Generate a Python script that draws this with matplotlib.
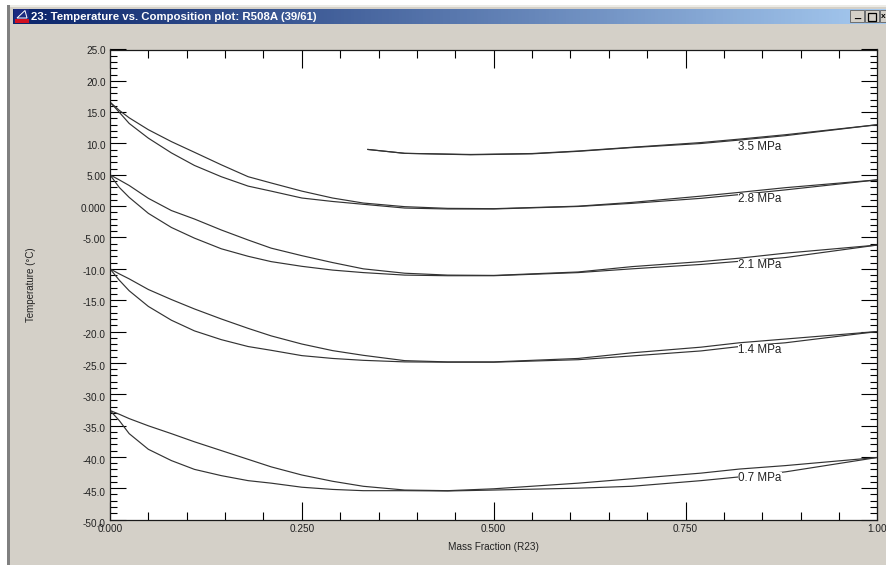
import matplotlib
matplotlib.use('Agg')
import matplotlib.pyplot as plt
from matplotlib.colors import LinearSegmentedColormap
from matplotlib.patches import Polygon, Rectangle
from matplotlib.ticker import MultipleLocator
from matplotlib.transforms import ScaledTranslation
import numpy as np

plt.rcParams['font.family'] = ['Liberation Sans', 'DejaVu Sans']

W, H = 887, 565

x_ticks = [0.0, 0.25, 0.5, 0.75, 1.0]
x_labels = ['0.000', '0.250', '0.500', '0.750', '1.00']
y_ticks = [25, 20, 15, 10, 5, 0, -5, -10, -15, -20, -25, -30, -35, -40, -45, -50]
y_labels = ['25.0', '20.0', '15.0', '10.0', '5.00', '0.000', '-5.00', '-10.0', '-15.0',
            '-20.0', '-25.0', '-30.0', '-35.0', '-40.0', '-45.0', '-50.0']

comp = [0.0, 0.012, 0.025, 0.05, 0.08, 0.11, 0.145, 0.18, 0.21, 0.25, 0.29, 0.33, 0.384, 0.44, 0.50,
        0.61, 0.68, 0.77, 0.82, 0.88, 1.0]

# upper and lower branch of each isobar
upper_07 = [-32.6, -33.2, -33.9, -35.05, -36.3, -37.6, -39.0, -40.4, -41.6, -42.9, -43.9, -44.7, -45.3, -45.4, -45.1,
            -44.2, -43.5, -42.6, -41.95, -41.4, -40.1]
lower_07 = [-32.6, -34.2, -36.3, -38.8, -40.6, -42.0, -43.0, -43.8, -44.2, -44.85, -45.2, -45.4, -45.4, -45.45, -45.3,
            -45.0, -44.7, -43.8, -43.2, -42.4, -40.1]
upper_14 = [-10.0, -10.8, -11.6, -13.3, -14.9, -16.4, -18.0, -19.5, -20.7, -22.0, -23.05, -23.8, -24.65, -24.85, -24.85,
            -24.3, -23.4, -22.5, -21.8, -21.2, -20.0]
lower_14 = [-10.0, -11.8, -13.5, -16.0, -18.2, -19.9, -21.3, -22.4, -23.0, -23.85, -24.3, -24.6, -24.85, -24.9, -24.9,
            -24.5, -23.9, -23.1, -22.4, -21.8, -20.0]
upper_21 = [5.0, 4.2, 3.3, 1.25, -0.7, -2.05, -3.8, -5.4, -6.7, -7.9, -9.0, -10.0, -10.7, -11.0, -11.05,
            -10.5, -9.65, -8.85, -8.3, -7.5, -6.2]
lower_21 = [5.0, 3.0, 1.4, -1.15, -3.4, -5.1, -6.8, -8.0, -8.85, -9.6, -10.2, -10.6, -11.0, -11.1, -11.1,
            -10.6, -10.0, -9.3, -8.8, -8.2, -6.2]
upper_28 = [16.6, 15.3, 14.1, 12.2, 10.3, 8.6, 6.6, 4.7, 3.7, 2.4, 1.3, 0.5, -0.08, -0.35, -0.4,
            0.0, 0.6, 1.6, 2.2, 2.95, 4.2]
lower_28 = [16.6, 15.0, 13.2, 10.85, 8.5, 6.5, 4.7, 3.2, 2.4, 1.3, 0.75, 0.3, -0.3, -0.45, -0.45,
            -0.05, 0.45, 1.25, 1.85, 2.6, 4.2]

comp_35 = [0.336, 0.384, 0.47, 0.55, 0.61, 0.68, 0.77, 0.82, 0.88, 1.0]
upper_35 = [9.05, 8.43, 8.25, 8.4, 8.8, 9.4, 10.15, 10.7, 11.4, 13.0]
lower_35 = [9.05, 8.43, 8.2, 8.35, 8.75, 9.35, 10.0, 10.55, 11.25, 13.0]

label_names = ['3.5 MPa', '2.8 MPa', '2.1 MPa', '1.4 MPa', '0.7 MPa']
label_x = [0.847, 0.847, 0.847, 0.847, 0.847]
label_y = [9.4, 1.1, -9.4, -23.0, -43.4]

BG = '#d4d0c8'
LINE = '#333333'

fig = plt.figure(figsize=(W / 100, H / 100), dpi=100, facecolor='white')


def px_axes(x0, y0, x1, y1):
    return fig.add_axes([x0 / W, 1 - y1 / H, (x1 - x0) / W, (y1 - y0) / H])


def px_rect(x0, y0, x1, y1, zorder=5, **kw):
    fig.add_artist(Rectangle((x0 / W, 1 - y1 / H), (x1 - x0) / W, (y1 - y0) / H,
                             transform=fig.transFigure, zorder=zorder, **kw))


# window frame
px_rect(7, 5, 887, 565, zorder=-2, facecolor=BG, edgecolor='none')
px_rect(7, 5, 887, 7, zorder=-1, facecolor='#ecebe6', edgecolor='none')
px_rect(7, 5, 10, 565, zorder=-1, facecolor='#808080', edgecolor='none')

# title bar
bar = px_axes(13, 8.5, 887, 24)
cmap = LinearSegmentedColormap.from_list('bar', ['#0a246a', '#a6caf0'])
bar.imshow(np.linspace(0, 1, 256).reshape(1, -1), aspect='auto', cmap=cmap)
bar.axis('off')
fig.text(31.5 / W, 1 - 16.5 / H, '23: Temperature vs. Composition plot: R508A (39/61)',
         color='white', fontsize=8.2, fontweight='bold', va='center', ha='left', zorder=6)
px_rect(14, 9, 29, 23, facecolor='#1a2a80', edgecolor='none')
px_rect(15, 19, 29, 23, zorder=6, facecolor='#d01020', edgecolor='none')
fig.add_artist(Polygon([(17 / W, 1 - 18 / H), (25 / W, 1 - 10.5 / H), (27 / W, 1 - 18 / H)],
                       transform=fig.transFigure, zorder=6, facecolor='none', edgecolor='white',
                       linewidth=0.7))
for bx in [850, 865, 880]:
    px_rect(bx, 10, bx + 14, 22, facecolor=BG, edgecolor='#606060', linewidth=0.6)
fig.text(857 / W, 1 - 15.5 / H, '_', fontsize=8, fontweight='bold', ha='center', va='center', zorder=6)
px_rect(868, 12.5, 876, 20.5, zorder=6, facecolor='none', edgecolor='black', linewidth=0.9)
fig.text(881 / W, 1 - 16 / H, 'x', fontsize=6, fontweight='bold', ha='left', va='center', zorder=6)

# plot
ax = px_axes(110, 49.5, 877.5, 519.5)
ax.set_facecolor('white')
pairs = [(comp, upper_07, lower_07), (comp, upper_14, lower_14), (comp, upper_21, lower_21),
         (comp, upper_28, lower_28), (comp_35, upper_35, lower_35)]
for xs, up, lo in pairs:
    ax.plot(xs, up, color=LINE, lw=0.85, solid_joinstyle='round')
    ax.plot(xs, lo, color=LINE, lw=0.85, solid_joinstyle='round')

for name, lx, ly in zip(label_names, label_x, label_y):
    ax.text(lx, ly, name, fontsize=8.4, color='#222222', ha='center', va='center', zorder=5,
            bbox=dict(facecolor='white', edgecolor='none', pad=0))

ax.set_xlim(0, 1)
ax.set_ylim(-50, 25)
ax.set_xticks(x_ticks)
ax.set_xticklabels(x_labels)
ax.set_yticks(y_ticks)
ax.set_yticklabels(y_labels)
ax.xaxis.set_minor_locator(MultipleLocator(0.05))
ax.yaxis.set_minor_locator(MultipleLocator(1))
ax.tick_params(which='major', direction='in', top=True, right=True, width=0.8,
               labelsize=7.2, labelcolor='#222222', pad=3)
ax.tick_params(axis='x', which='major', length=13, pad=3)
ax.tick_params(axis='y', which='major', length=11.3)
ax.tick_params(axis='x', which='minor', direction='in', top=True, length=6, width=0.8)
ax.tick_params(axis='y', which='minor', direction='in', right=True, length=5.3, width=0.8)

# the y labels sit a little lower than their ticks, more so towards the bottom
for i, lab in enumerate(ax.get_yticklabels()):
    lab.set_transform(lab.get_transform() + ScaledTranslation(0, -(1 + 2.5 * i / 15) / 100, fig.dpi_scale_trans))

for s in ax.spines.values():
    s.set_linewidth(0.9)
    s.set_color('#1a1a1a')

fig.text(493.5 / W, 1 - 547.5 / H, 'Mass Fraction (R23)', fontsize=7.2, color='#222222', ha='center', va='center')
fig.text(31 / W, 1 - 285 / H, 'Temperature (°C)', fontsize=7.0, color='#222222', rotation=90,
         ha='center', va='center')

fig.savefig('out.png', dpi=100, facecolor=fig.get_facecolor())
